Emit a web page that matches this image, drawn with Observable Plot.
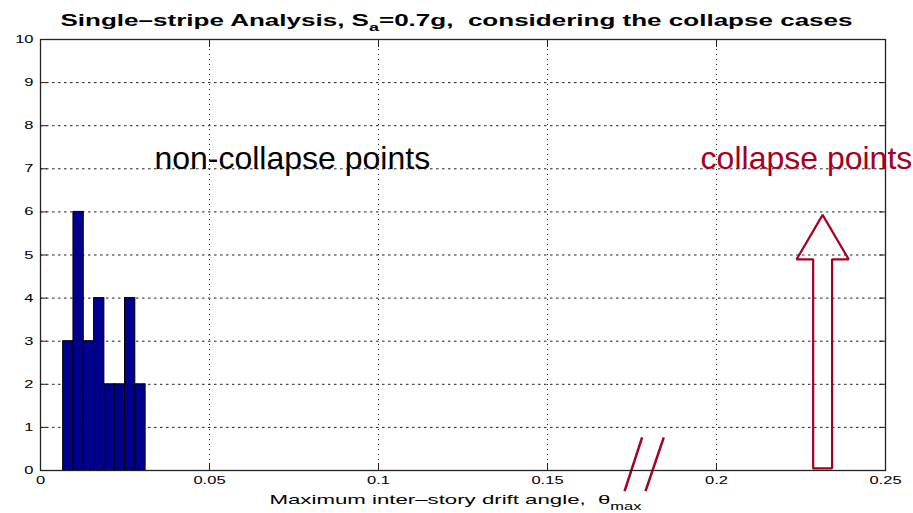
<!DOCTYPE html>
<html>
<head>
<meta charset="utf-8">
<script src="https://cdn.jsdelivr.net/npm/d3@7"></script>
<script src="https://cdn.jsdelivr.net/npm/@observablehq/plot@0.6"></script>
<style>
  html, body { margin: 0; padding: 0; background: #fff; }
  #chart svg { display: block; overflow: visible; }
</style>
</head>
<body>
<div id="chart"></div>
<script>
// Histogram of the non-collapse drift demands (bin edges and counts)
const binLeft   = [0.0067, 0.00975, 0.0128, 0.01585, 0.0189, 0.02195, 0.0250, 0.02805];
const binRight  = [0.00975, 0.0128, 0.01585, 0.0189, 0.02195, 0.0250, 0.02805, 0.0311];
const binCounts = [3, 6, 3, 4, 2, 2, 4, 2];

// Axis ticks
const xTicks = [0, 0.05, 0.1, 0.15, 0.2, 0.25];
const xTickLabels = ["0", "0.05", "0.1", "0.15", "0.2", "0.25"];
const yTicks = [0, 1, 2, 3, 4, 5, 6, 7, 8, 9, 10];

// Outline of the hollow "collapse" arrow (data units)
const arrowX = [0.2286, 0.2286, 0.2237, 0.2314, 0.2391, 0.2342, 0.2342, 0.2286];
const arrowY = [0.05, 4.9, 4.9, 5.93, 4.9, 4.9, 0.05, 0.05];

// Axis-break slashes
const breakTopX    = [0.1780, 0.1844];
const breakBottomX = [0.1728, 0.1790];
const breakTopY    = 0.77;
const breakBottomY = -0.48;

// Annotations
const noteTexts  = ["non-collapse points", "collapse points"];
const noteX      = [0.0337, 0.1953];
const noteY      = [7, 7];
const noteColors = ["#000000", "#a50021"];

const titleParts  = [["Single–stripe Analysis, S", false], ["a", true], ["=0.7g,  considering the collapse cases", false]];
const xLabelParts = [["Maximum inter–story drift angle,  θ", false], ["max", true]];

const red = "#a50021";
const navy = "#00008f";

const bars = binCounts.map((c, i) => ({x1: binLeft[i], x2: binRight[i], count: c}));
const arrow = arrowX.map((x, i) => ({x, y: arrowY[i]}));
const breaks = breakTopX.map((x, i) => ({x1: x, y1: breakTopY, x2: breakBottomX[i], y2: breakBottomY}));
const notes = noteTexts.map((t, i) => ({t, x: noteX[i], y: noteY[i], c: noteColors[i]}));

const titleText = titleParts.map(p => p[0]).join("");
const xLabelText = xLabelParts.map(p => p[0]).join("");

const chart = Plot.plot({
  width: 913,
  height: 513,
  marginTop: 39,
  marginRight: 28,
  marginBottom: 43,
  marginLeft: 40,
  x: {domain: [0, 0.25]},
  y: {domain: [0, 10]},
  style: {fontFamily: "'Liberation Sans', Arial, Helvetica, sans-serif", background: "#fff", color: "#000"},
  marks: [
    // dotted grid
    Plot.ruleY(yTicks.slice(1, -1), {stroke: "#222", strokeWidth: 1, strokeDasharray: "2.5,3.5"}),
    Plot.ruleX(xTicks.slice(1, -1), {stroke: "#222", strokeWidth: 1, strokeDasharray: "1,4"}),
    // histogram bars
    Plot.rectY(bars, {x1: "x1", x2: "x2", y: "count", fill: navy, stroke: "#000", strokeWidth: 1}),
    // collapse arrow
    Plot.line(arrow, {x: "x", y: "y", stroke: red, strokeWidth: 2.2, strokeLinejoin: "miter"}),
    // break marks on the x axis
    Plot.link(breaks, {x1: "x1", y1: "y1", x2: "x2", y2: "y2", stroke: red, strokeWidth: 2.5}),
    // box
    Plot.frame({stroke: "#222", strokeWidth: 1.3}),
    // axes with inward ticks
    Plot.axisY(yTicks, {anchor: "left", tickSize: -7, tickPadding: 14, fontSize: 11, label: null, stroke: "#222"}),
    Plot.axisY(yTicks, {anchor: "right", tickSize: -7, tickFormat: () => "", label: null, stroke: "#222"}),
    Plot.axisX(xTicks, {anchor: "bottom", tickSize: -7, tickPadding: 13, fontSize: 11, label: null, stroke: "#222",
      tickFormat: d => xTickLabels[xTicks.indexOf(d)]}),
    Plot.axisX(xTicks, {anchor: "top", tickSize: -7, tickFormat: () => "", label: null, stroke: "#222"}),
    // annotations
    Plot.text(notes, {x: "x", y: "y", text: "t", fill: "c", fontSize: 32, textAnchor: "start", lineAnchor: "bottom"}),
    // title and x label
    Plot.text([titleText], {frameAnchor: "top", dy: -14, dx: -6.5, fontSize: 16, fontWeight: "bold", lineAnchor: "bottom"}),
    Plot.text([xLabelText], {frameAnchor: "bottom", dy: 33, dx: -7.5, fontSize: 13.5, lineAnchor: "bottom"})
  ]
});

document.getElementById("chart").append(chart);

// Sub-scripted text runs and the wide MATLAB-style lettering
function setRich(node, parts, subShift, subSize) {
  const sel = d3.select(node);
  sel.text(null).style("white-space", "pre");
  let shifted = false;
  for (const [t, sub] of parts) {
    const ts = sel.append("tspan").text(t);
    if (sub) { ts.attr("dy", subShift).attr("font-size", subSize); shifted = true; }
    else if (shifted) { ts.attr("dy", -subShift); shifted = false; }
  }
}

function stretchTo(node, width) {
  node.setAttribute("textLength", width);
  node.setAttribute("lengthAdjust", "spacingAndGlyphs");
}

d3.select(chart).selectAll("text").each(function () {
  const s = this.textContent;
  if (s === titleText) { setRich(this, titleParts, 5, 11); stretchTo(this, 792); }
  else if (s === xLabelText) { setRich(this, xLabelParts, 6, 10); stretchTo(this, 372); }
});

d3.select(chart).selectAll('g[aria-label$="tick label"] text').each(function () {
  if (!this.textContent) return;
  const w = this.getComputedTextLength();
  stretchTo(this, w * 1.5);
});
</script>
</body>
</html>
